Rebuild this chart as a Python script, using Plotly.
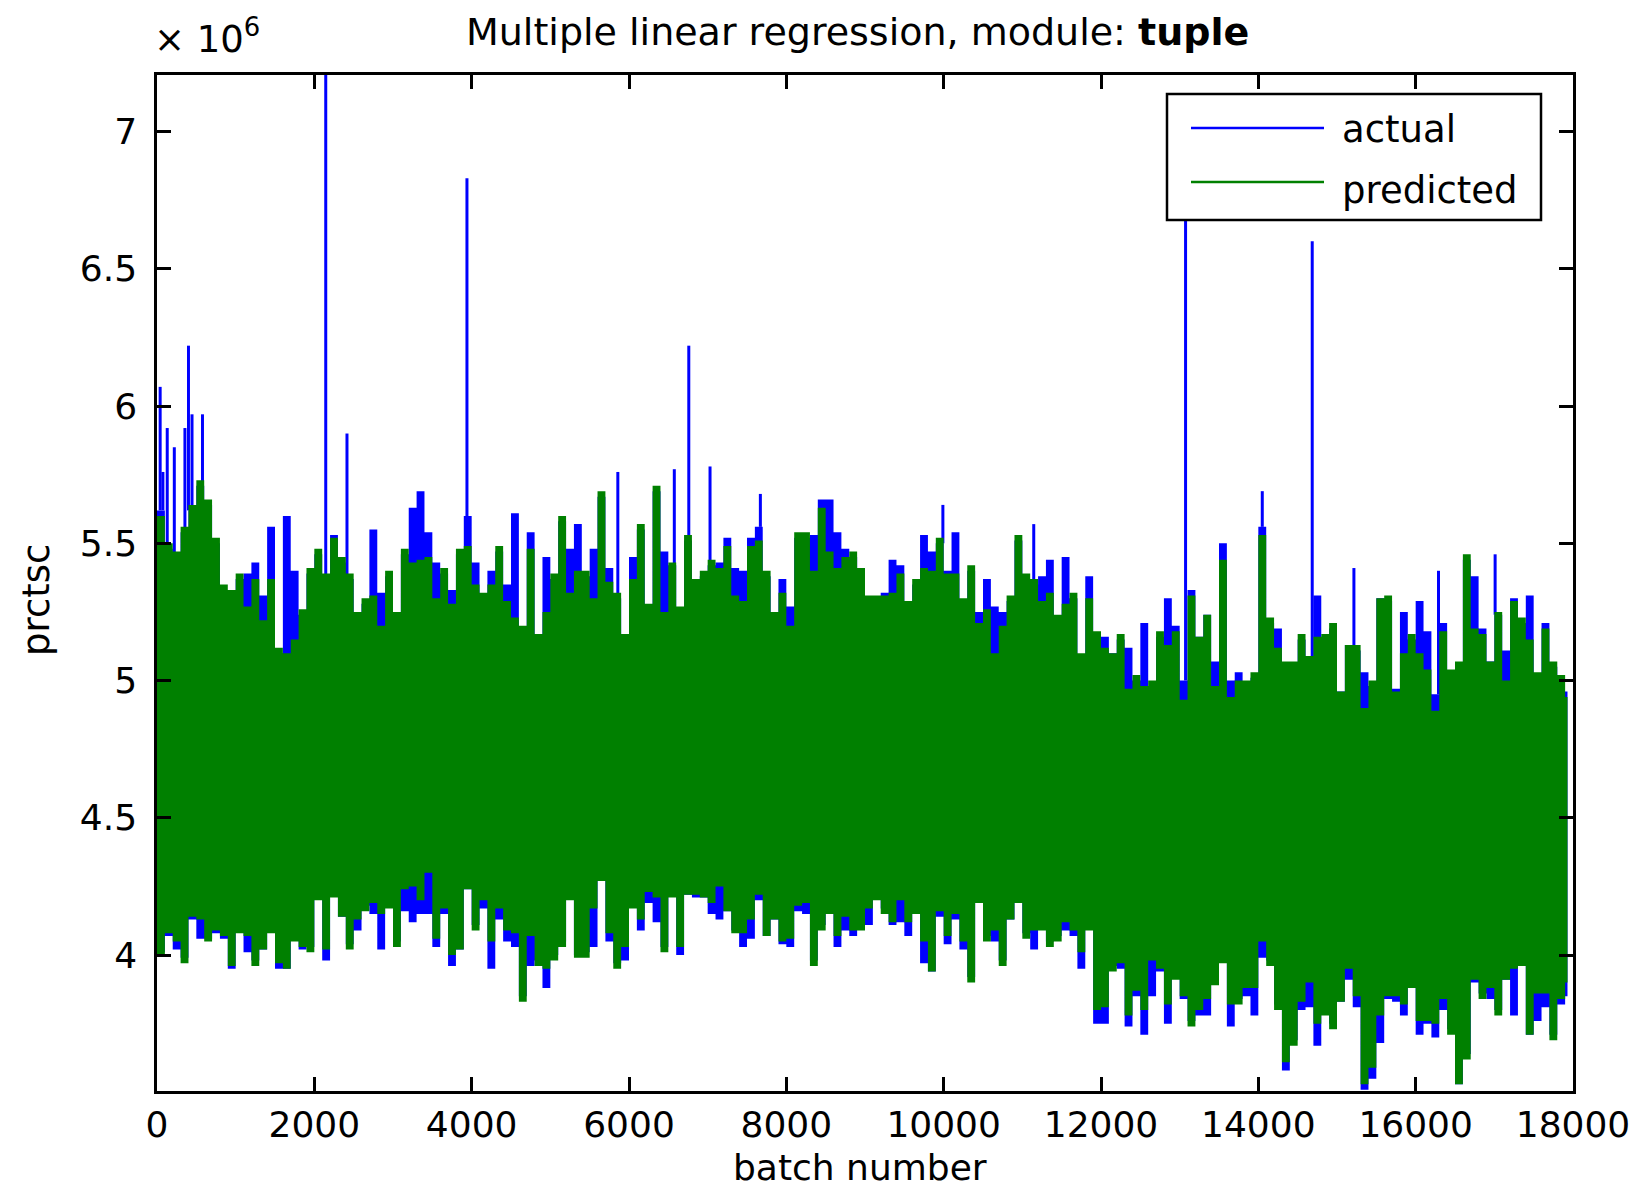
import plotly.graph_objects as go

# ---- data (values in units of 1e6) ----
# bins of 100 batches; the last bin stops where the series ends
bin_edges = list(range(0, 18000, 100)) + [17930]

# upper / lower extent of each series inside every bin
actual_high = [
    5.62, 5.48, 5.45, 5.54, 5.62, 5.71, 5.64, 5.50, 5.33, 5.31,
    5.37, 5.39, 5.43, 5.31, 5.56, 5.10, 5.60, 5.40, 5.24, 5.39,
    5.46, 5.37, 5.53, 5.43, 5.37, 5.23, 5.28, 5.55, 5.32, 5.38,
    5.23, 5.46, 5.63, 5.69, 5.54, 5.43, 5.39, 5.33, 5.46, 5.60,
    5.43, 5.30, 5.40, 5.47, 5.35, 5.61, 5.18, 5.54, 5.15, 5.45,
    5.37, 5.58, 5.48, 5.57, 5.38, 5.48, 5.67, 5.41, 5.30, 5.15,
    5.45, 5.55, 5.26, 5.69, 5.47, 5.42, 5.25, 5.51, 5.35, 5.38,
    5.42, 5.43, 5.52, 5.41, 5.40, 5.52, 5.56, 5.38, 5.23, 5.37,
    5.27, 5.52, 5.52, 5.53, 5.66, 5.66, 5.54, 5.48, 5.45, 5.39,
    5.29, 5.29, 5.32, 5.44, 5.42, 5.27, 5.35, 5.53, 5.47, 5.50,
    5.40, 5.54, 5.28, 5.40, 5.25, 5.37, 5.27, 5.25, 5.29, 5.51,
    5.37, 5.35, 5.38, 5.44, 5.22, 5.45, 5.30, 5.08, 5.38, 5.16,
    5.16, 5.10, 5.15, 5.12, 5.00, 5.21, 4.98, 5.16, 5.30, 5.20,
    5.00, 5.33, 5.16, 5.24, 5.07, 5.50, 5.00, 5.03, 4.98, 5.01,
    5.56, 5.21, 5.19, 5.05, 5.00, 5.15, 5.07, 5.31, 5.15, 5.19,
    4.96, 5.13, 5.11, 5.03, 4.98, 5.30, 5.29, 4.97, 5.25, 5.15,
    5.29, 5.18, 4.95, 5.21, 5.02, 5.05, 5.44, 5.38, 5.19, 5.07,
    5.24, 5.11, 5.30, 5.21, 5.31, 5.01, 5.21, 5.05, 4.96, 4.96,
]
actual_low = [
    4.01, 4.07, 4.02, 3.99, 4.13, 4.06, 4.06, 4.08, 4.06, 3.95,
    4.10, 4.01, 3.98, 4.02, 4.10, 3.95, 3.95, 4.06, 4.02, 4.03,
    4.21, 3.98, 4.23, 4.14, 4.04, 4.09, 4.18, 4.15, 4.02, 4.19,
    4.05, 4.16, 4.12, 4.15, 4.15, 4.03, 4.15, 3.96, 4.02, 4.24,
    4.11, 4.17, 3.95, 4.13, 4.05, 4.03, 3.85, 3.96, 3.98, 3.88,
    4.00, 4.05, 4.22, 4.00, 4.01, 4.03, 4.27, 4.05, 3.97, 3.98,
    4.19, 4.09, 4.19, 4.12, 4.03, 4.23, 4.00, 4.22, 4.21, 4.21,
    4.15, 4.13, 4.16, 4.09, 4.03, 4.06, 4.20, 4.07, 4.13, 4.04,
    4.03, 4.16, 4.15, 3.98, 4.11, 4.17, 4.03, 4.09, 4.07, 4.11,
    4.11, 4.22, 4.17, 4.11, 4.12, 4.07, 4.15, 3.97, 3.94, 4.14,
    4.04, 4.13, 4.02, 3.92, 4.21, 4.07, 4.05, 3.98, 4.13, 4.21,
    4.08, 4.02, 4.11, 4.05, 4.07, 4.09, 4.07, 3.95, 4.11, 3.75,
    3.75, 3.96, 3.95, 3.74, 3.85, 3.71, 3.85, 3.94, 3.75, 3.93,
    3.84, 3.76, 3.78, 3.78, 3.91, 3.99, 3.74, 3.84, 3.85, 3.78,
    3.99, 3.98, 3.82, 3.58, 3.69, 3.80, 3.81, 3.67, 3.79, 3.75,
    3.83, 3.91, 3.81, 3.51, 3.55, 3.68, 3.84, 3.83, 3.78, 3.88,
    3.71, 3.75, 3.70, 3.80, 3.73, 3.53, 3.64, 3.90, 3.86, 3.84,
    3.80, 3.91, 3.78, 3.98, 3.71, 3.76, 3.81, 3.71, 3.82, 3.85,
]
predicted_high = [
    5.60, 5.50, 5.47, 5.56, 5.64, 5.73, 5.66, 5.52, 5.35, 5.33,
    5.39, 5.27, 5.37, 5.22, 5.37, 5.12, 5.10, 5.15, 5.26, 5.41,
    5.48, 5.39, 5.52, 5.45, 5.39, 5.25, 5.30, 5.31, 5.20, 5.40,
    5.25, 5.48, 5.43, 5.44, 5.45, 5.30, 5.41, 5.28, 5.48, 5.49,
    5.35, 5.32, 5.35, 5.49, 5.29, 5.23, 5.20, 5.48, 5.17, 5.25,
    5.39, 5.60, 5.32, 5.40, 5.40, 5.30, 5.69, 5.36, 5.32, 5.17,
    5.37, 5.57, 5.28, 5.71, 5.25, 5.43, 5.27, 5.53, 5.37, 5.40,
    5.44, 5.41, 5.49, 5.31, 5.29, 5.49, 5.51, 5.40, 5.25, 5.32,
    5.20, 5.54, 5.54, 5.40, 5.63, 5.47, 5.41, 5.45, 5.47, 5.41,
    5.31, 5.31, 5.31, 5.32, 5.39, 5.29, 5.37, 5.41, 5.40, 5.52,
    5.39, 5.39, 5.30, 5.42, 5.21, 5.26, 5.10, 5.20, 5.31, 5.53,
    5.39, 5.37, 5.29, 5.32, 5.24, 5.28, 5.32, 5.10, 5.30, 5.18,
    5.12, 5.10, 5.17, 4.97, 5.02, 4.98, 5.00, 5.18, 5.13, 5.18,
    4.93, 5.31, 5.16, 5.24, 4.98, 5.44, 4.94, 5.00, 5.00, 5.03,
    5.53, 5.23, 5.12, 5.07, 5.07, 5.17, 5.09, 5.16, 5.17, 5.21,
    4.96, 5.13, 5.13, 4.90, 5.00, 5.30, 5.31, 4.96, 5.10, 5.17,
    5.10, 5.04, 4.89, 5.18, 5.04, 5.07, 5.46, 5.19, 5.17, 5.07,
    5.25, 5.00, 5.29, 5.23, 5.15, 5.03, 5.19, 5.07, 5.02, 4.94,
]
predicted_low = [
    4.00, 4.08, 4.05, 3.97, 4.14, 4.13, 4.05, 4.09, 4.07, 3.96,
    4.08, 4.07, 3.96, 4.02, 4.08, 3.97, 3.95, 4.05, 4.03, 4.01,
    4.20, 4.02, 4.21, 4.14, 4.02, 4.13, 4.16, 4.19, 4.15, 4.17,
    4.03, 4.24, 4.25, 4.20, 4.30, 4.06, 4.17, 4.00, 4.02, 4.24,
    4.09, 4.20, 4.05, 4.17, 4.09, 4.08, 3.83, 4.07, 3.96, 3.95,
    3.98, 4.03, 4.20, 3.99, 3.99, 4.17, 4.27, 4.08, 3.95, 4.03,
    4.17, 4.13, 4.23, 4.21, 4.01, 4.21, 4.03, 4.22, 4.22, 4.21,
    4.19, 4.25, 4.16, 4.08, 4.08, 4.13, 4.22, 4.07, 4.13, 4.05,
    4.06, 4.18, 4.19, 3.96, 4.09, 4.15, 4.07, 4.14, 4.09, 4.09,
    4.17, 4.20, 4.15, 4.12, 4.20, 4.12, 4.15, 4.05, 3.94, 4.16,
    4.07, 4.15, 4.05, 3.90, 4.19, 4.05, 4.09, 3.96, 4.13, 4.19,
    4.06, 4.09, 4.09, 4.03, 4.05, 4.12, 4.09, 4.01, 4.09, 3.80,
    3.81, 3.94, 3.97, 3.78, 3.87, 3.80, 3.98, 3.95, 3.82, 3.91,
    3.85, 3.74, 3.80, 3.84, 3.89, 3.97, 3.82, 3.82, 3.88, 3.88,
    4.05, 3.96, 3.80, 3.61, 3.67, 3.83, 3.90, 3.75, 3.78, 3.73,
    3.83, 3.95, 3.85, 3.53, 3.59, 3.78, 3.85, 3.85, 3.82, 3.88,
    3.76, 3.76, 3.75, 3.84, 3.71, 3.53, 3.62, 3.91, 3.84, 3.88,
    3.78, 3.91, 3.95, 3.96, 3.71, 3.86, 3.86, 3.69, 3.84, 3.90,
]

# isolated single-batch peaks of the actual series
spike_batch = [40, 75, 130, 220, 355, 400, 445, 578, 2145, 2415, 3940, 5858,
               6576, 6760, 7030, 7670, 9990, 11145, 13075, 14050, 14685,
               15215, 16290, 17010]
spike_peak = [6.07, 5.76, 5.92, 5.85, 5.92, 6.22, 5.97, 5.97, 7.30, 5.90, 6.83,
              5.76, 5.77, 6.22, 5.78, 5.68, 5.64, 5.57, 6.68, 5.69, 6.60,
              5.41, 5.40, 5.46]

x_ticks = list(range(0, 18001, 2000))
x_tick_text = [str(v) for v in x_ticks]
y_ticks = [4, 4.5, 5, 5.5, 6, 6.5, 7]
y_tick_text = ["4", "4.5", "5", "5.5", "6", "6.5", "7"]

BLUE = "#0000ff"
GREEN = "#008000"
FONT = "DejaVu Sans"

W, H = 1651, 1191
L, R, T, B = 157, 78, 75, 100
PW, PH = W - L - R, H - T - B


def px(x):
    return (x - L) / PW


def py(y):
    return (H - B - y) / PH


def steps(vals):
    return bin_edges, list(vals) + [vals[-1]]


fig = go.Figure()

# actual: filled band between low and high envelopes
xs, ys = steps(actual_low)
fig.add_trace(go.Scatter(x=xs, y=ys, mode="lines", line=dict(width=0, shape="hv", color=BLUE),
                         showlegend=False, hoverinfo="skip"))
xs, ys = steps(actual_high)
fig.add_trace(go.Scatter(x=xs, y=ys, mode="lines", line=dict(width=0, shape="hv", color=BLUE),
                         fill="tonexty", fillcolor=BLUE, name="actual", showlegend=False))

# actual: narrow peaks above the band
sx, sy = [], []
for b, p in zip(spike_batch, spike_peak):
    base = actual_high[min(b // 100, len(actual_high) - 1)]
    sx += [b, b, None]
    sy += [base, p, None]
fig.add_trace(go.Scatter(x=sx, y=sy, mode="lines", line=dict(width=3, color=BLUE),
                         showlegend=False, hoverinfo="skip"))

# predicted: filled band drawn on top
xs, ys = steps(predicted_low)
fig.add_trace(go.Scatter(x=xs, y=ys, mode="lines", line=dict(width=0, shape="hv", color=GREEN),
                         showlegend=False, hoverinfo="skip"))
xs, ys = steps(predicted_high)
fig.add_trace(go.Scatter(x=xs, y=ys, mode="lines", line=dict(width=0, shape="hv", color=GREEN),
                         fill="tonexty", fillcolor=GREEN, name="predicted", showlegend=False))

axis_common = dict(showline=True, linecolor="black", linewidth=2.5, mirror="ticks",
                   ticks="inside", ticklen=14, tickwidth=2.5, tickcolor="black",
                   showgrid=False, zeroline=False,
                   tickfont=dict(family=FONT, size=36, color="black"))

fig.update_xaxes(range=[0, 18000], tickvals=x_ticks, ticktext=x_tick_text,
                 ticklabelstandoff=0, **axis_common)
fig.update_yaxes(range=[3.505, 7.206], tickvals=y_ticks, ticktext=y_tick_text,
                 ticklabelstandoff=10, **axis_common)

# legend box drawn by hand
shapes = [
    dict(type="rect", xref="paper", yref="paper", x0=px(1167), x1=px(1541), y0=py(220), y1=py(94),
         line=dict(color="black", width=2.5), fillcolor="white", layer="above"),
    dict(type="line", xref="paper", yref="paper", x0=px(1191), x1=px(1324), y0=py(128), y1=py(128),
         line=dict(color=BLUE, width=2.5), layer="above"),
    dict(type="line", xref="paper", yref="paper", x0=px(1191), x1=px(1324), y0=py(182), y1=py(182),
         line=dict(color=GREEN, width=2.5), layer="above"),
]

txt = dict(family=FONT, size=37, color="black")
annotations = [
    dict(text="actual", x=px(1340), y=py(129), xref="paper", yref="paper",
         xanchor="left", yanchor="middle", showarrow=False, font=txt),
    dict(text="predicted", x=px(1340), y=py(190), xref="paper", yref="paper",
         xanchor="left", yanchor="middle", showarrow=False, font=txt),
    dict(text="Multiple linear regression, module: <b>tuple</b>", x=px(857), y=py(32),
         xref="paper", yref="paper", xanchor="center", yanchor="middle", showarrow=False,
         font=dict(family=FONT, size=38, color="black")),
    dict(text="× 10<sup>6</sup>", x=px(152), y=py(36), xref="paper", yref="paper",
         xanchor="left", yanchor="middle", showarrow=False, font=txt),
    dict(text="batch number", x=px(860), y=py(1167), xref="paper", yref="paper",
         xanchor="center", yanchor="middle", showarrow=False,
         font=dict(family=FONT, size=36, color="black")),
    dict(text="prctsc", x=px(36), y=py(600), xref="paper", yref="paper", textangle=-90,
         xanchor="center", yanchor="middle", showarrow=False, font=txt),
]

fig.update_layout(
    width=W, height=H, autosize=False,
    margin=dict(l=L, r=R, t=T, b=B, pad=0),
    paper_bgcolor="white", plot_bgcolor="white",
    showlegend=False, shapes=shapes, annotations=annotations,
)

fig.write_html("out.html")
